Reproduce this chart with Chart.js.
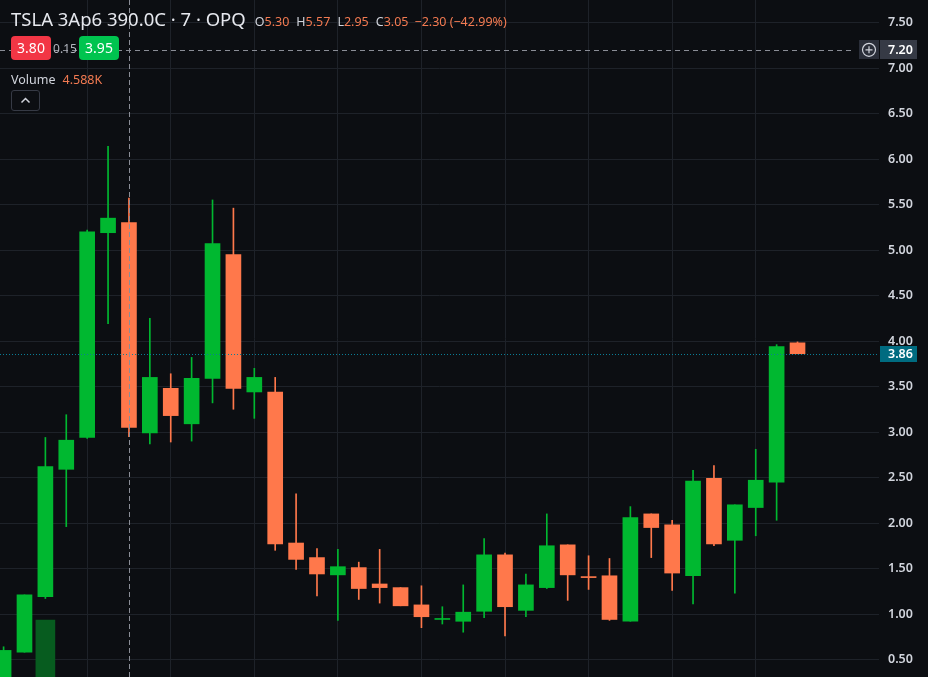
<!DOCTYPE html>
<html>
<head>
<meta charset="utf-8">
<script src="https://cdn.jsdelivr.net/npm/chart.js@4.4.1/dist/chart.umd.min.js"></script>
<style>
  html, body { margin: 0; padding: 0; background: #0c0e12; }
  #wrap { position: relative; width: 928px; height: 677px; overflow: hidden; font-family: "Noto Sans", "Open Sans", sans-serif; }
  #chart { position: absolute; left: 0; top: 0; }
  .legend { position: absolute; left: 11px; color: #d1d4dc; white-space: nowrap; }
  #title { top: 6px; display: flex; align-items: baseline; }
  #title .sym { font-size: 18.5px; color: #e6e8ee; margin-right: 8px; }
  #title .k { font-size: 12.5px; color: #d1d4dc; margin-left: 1px; }
  #title .v { font-size: 12.5px; color: #f47b52; margin-right: 6px; }
  #quote { top: 36px; display: flex; align-items: center; }
  .box { width: 40px; height: 24px; border-radius: 4px; color: #fff; font-size: 14px; line-height: 24px; text-align: center; }
  #bid { background: #f23645; }
  #ask { background: #00c44f; }
  #spread { font-size: 12px; color: #b2b5be; width: 28px; text-align: center; }
  #vol { top: 71px; font-size: 12.5px; }
  #vol span { color: #f47b52; margin-left: 7px; }
  #collapse { position: absolute; left: 11px; top: 90px; width: 27px; height: 19px; border: 1px solid #363a45; border-radius: 3px; }
</style>
</head>
<body>
<div id="wrap">
  <canvas id="chart" width="928" height="677"></canvas>
  <div id="title" class="legend">
    <span class="sym">TSLA 3Ap6 390.0C · 7 · OPQ</span>
    <span class="k">O</span><span class="v">5.30</span>
    <span class="k">H</span><span class="v">5.57</span>
    <span class="k">L</span><span class="v">2.95</span>
    <span class="k">C</span><span class="v">3.05</span>
    <span class="v">−2.30 (−42.99%)</span>
  </div>
  <div id="quote" class="legend">
    <div id="bid" class="box">3.80</div>
    <div id="spread">0.15</div>
    <div id="ask" class="box">3.95</div>
  </div>
  <div id="vol" class="legend">Volume<span>4.588K</span></div>
  <div id="collapse">
    <svg width="27" height="19" viewBox="0 0 27 19"><polyline points="9.5,11.5 13.5,7.5 17.5,11.5" fill="none" stroke="#d1d4dc" stroke-width="1.5"/></svg>
  </div>
</div>
<script>
// daily candles (first open/low sit below the visible edge)
const opens  = [0.28, 0.58, 1.19, 2.59, 2.94, 5.19, 5.30, 2.99, 3.48, 3.09, 3.59, 4.95, 3.44, 3.44, 1.78, 1.62, 1.43, 1.51, 1.33, 1.29,
                1.10, 0.94, 0.92, 1.03, 1.65, 1.04, 1.29, 1.76, 1.41, 1.42, 0.92, 2.10, 1.98, 1.42, 2.49, 1.81, 2.17, 2.45, 3.98]
const highs  = [0.64, 1.21, 2.94, 3.19, 5.22, 6.14, 5.57, 4.25, 3.64, 3.82, 5.55, 5.46, 3.70, 3.60, 2.32, 1.72, 1.71, 1.57, 1.71, 1.29,
                1.31, 1.08, 1.32, 1.83, 1.67, 1.44, 2.10, 1.76, 1.64, 1.61, 2.18, 2.10, 2.03, 2.58, 2.63, 2.20, 2.81, 3.96, 3.99]
const lows   = [0.25, 0.58, 1.17, 1.96, 2.93, 4.19, 2.95, 2.87, 2.89, 2.90, 3.32, 3.25, 3.15, 1.70, 1.49, 1.20, 0.93, 1.16, 1.12, 1.09,
                0.85, 0.89, 0.80, 0.96, 0.76, 0.97, 1.28, 1.15, 1.27, 0.93, 0.92, 1.62, 1.26, 1.11, 1.75, 1.23, 1.86, 2.03, 3.86]
const closes = [0.60, 1.21, 2.62, 2.91, 5.20, 5.35, 3.05, 3.60, 3.18, 3.59, 5.07, 3.48, 3.60, 1.77, 1.60, 1.44, 1.52, 1.28, 1.29, 1.09,
                0.97, 0.95, 1.02, 1.65, 1.08, 1.32, 1.75, 1.43, 1.40, 0.94, 2.06, 1.95, 1.45, 2.46, 1.77, 2.20, 2.47, 3.94, 3.86]
// volume pane sits mostly below the visible bottom; only the tallest bar shows
const volumes = [3100, 2400, 9800, 1900, 4400, 2700, 4588, 2100, 1300, 1600, 3900, 3300, 1200, 4100, 1800, 1100, 1500, 900, 1000, 700,
                 1200, 600, 900, 2300, 1700, 800, 1400, 900, 500, 1300, 2600, 700, 1100, 2200, 1500, 1200, 1300, 3800, 400]

const priceTicks = [0.5, 1, 1.5, 2, 2.5, 3, 3.5, 4, 4.5, 5, 5.5, 6, 6.5, 7, 7.5]
const crossIndex = 6
const crossPrice = 7.20
const lastPrice = 3.86

const UP = "#00b830"
const DOWN = "#ff784b"
const GRID = "#1e2229"
const BG = "#0c0e12"

const idx = opens.map((_, i) => i)
const colors = idx.map((i) => (closes[i] >= opens[i] ? UP : DOWN))

const background = {
  id: "background",
  beforeDraw(chart) {
    const { ctx } = chart
    ctx.save()
    ctx.fillStyle = BG
    ctx.fillRect(0, 0, chart.width, chart.height)
    ctx.restore()
  },
}

const overlays = {
  id: "overlays",
  afterDatasetsDraw(chart) {
    const { ctx, chartArea } = chart
    const x = chart.scales.x
    const y = chart.scales.y
    ctx.save()
    ctx.lineWidth = 1

    // last price line
    const ly = Math.round(y.getPixelForValue(lastPrice)) + 0.5
    ctx.strokeStyle = "#0a7e96"
    ctx.setLineDash([1, 2])
    ctx.beginPath()
    ctx.moveTo(chartArea.left, ly)
    ctx.lineTo(chartArea.right, ly)
    ctx.stroke()

    // crosshair
    ctx.strokeStyle = "#8a8d96"
    ctx.setLineDash([5, 3])
    const cx = Math.round(x.getPixelForValue(crossIndex)) + 0.5
    ctx.beginPath()
    ctx.moveTo(cx, chartArea.top)
    ctx.lineTo(cx, chartArea.bottom)
    ctx.stroke()
    const cy = Math.round(y.getPixelForValue(crossPrice)) + 0.5
    ctx.setLineDash([5, 4])
    ctx.beginPath()
    ctx.moveTo(chartArea.left, cy)
    ctx.lineTo(chartArea.right - 26, cy)
    ctx.stroke()
    ctx.restore()
  },
  afterDraw(chart) {
    const { ctx, chartArea } = chart
    const y = chart.scales.y
    ctx.save()
    ctx.textBaseline = "middle"
    ctx.textAlign = "left"
    ctx.font = "600 12.5px 'Noto Sans', sans-serif"

    // last price badge
    const ly = y.getPixelForValue(lastPrice)
    ctx.fillStyle = "#006b80"
    ctx.fillRect(chartArea.right + 1, Math.round(ly) - 8, 37, 16)
    ctx.fillStyle = "#ffffff"
    ctx.fillText(lastPrice.toFixed(2), chartArea.right + 9, ly + 0.5)

    // crosshair price badge + add button
    const cy = y.getPixelForValue(crossPrice)
    ctx.fillStyle = "#363a45"
    ctx.fillRect(chartArea.right + 1, Math.round(cy) - 10, 37, 19)
    ctx.fillStyle = "#ffffff"
    ctx.fillText(crossPrice.toFixed(2), chartArea.right + 9, cy + 0.5)

    const bx = chartArea.right - 20
    ctx.fillStyle = "#2a2e39"
    ctx.fillRect(bx, Math.round(cy) - 10, 20, 19)
    ctx.strokeStyle = "#d1d4dc"
    ctx.lineWidth = 1.2
    ctx.beginPath()
    ctx.arc(bx + 10, cy, 6.5, 0, Math.PI * 2)
    ctx.moveTo(bx + 6.5, cy)
    ctx.lineTo(bx + 13.5, cy)
    ctx.moveTo(bx + 10, cy - 3.5)
    ctx.lineTo(bx + 10, cy + 3.5)
    ctx.stroke()
    ctx.restore()
  },
}

new Chart(document.getElementById("chart"), {
  type: "bar",
  data: {
    datasets: [
      {
        label: "bodies",
        data: idx.map((i) => ({ x: i, y: [opens[i], closes[i]] })),
        backgroundColor: colors,
        barThickness: 15,
        minBarLength: 1,
        grouped: false,
        order: 1,
        yAxisID: "y",
      },
      {
        label: "wicks",
        data: idx.map((i) => ({ x: i, y: [lows[i], highs[i]] })),
        backgroundColor: colors,
        barThickness: 1,
        grouped: false,
        order: 2,
        yAxisID: "y",
      },
      {
        label: "volume",
        data: idx.map((i) => ({ x: i, y: volumes[i] })),
        backgroundColor: idx.map((i) => (closes[i] >= opens[i] ? "#075c1f" : "#7a3a26")),
        barThickness: 19,
        grouped: false,
        order: 3,
        yAxisID: "vol",
      },
    ],
  },
  options: {
    responsive: false,
    animation: false,
    events: [],
    layout: { padding: 0 },
    plugins: { legend: { display: false }, tooltip: { enabled: false } },
    scales: {
      x: {
        type: "linear",
        offset: false,
        min: -0.172,
        max: 41.9,
        ticks: { display: false, stepSize: 4 },
        afterBuildTicks: (axis) => {
          axis.ticks = axis.ticks.filter((t) => Math.abs(t.value % 4) < 1e-6)
        },
        afterFit: (axis) => {
          axis.height = 0
          axis.paddingLeft = 0
          axis.paddingRight = 0
        },
        grid: { color: GRID, drawTicks: false, offset: false },
        border: { display: false },
      },
      y: {
        position: "right",
        min: 0.3077,
        max: 7.7473,
        afterBuildTicks: (axis) => {
          axis.ticks = priceTicks.map((v) => ({ value: v }))
        },
        afterFit: (axis) => {
          axis.width = 49
          axis.paddingTop = 0
          axis.paddingBottom = 0
        },
        ticks: {
          color: "#d1d4dc",
          padding: 9,
          font: { family: "'Noto Sans', sans-serif", size: 12.5, weight: "600" },
          callback: (v) => Number(v).toFixed(2),
        },
        grid: { color: GRID, drawTicks: false },
        border: { display: false },
      },
      vol: {
        display: false,
        min: 5000,
        max: 62000,
      },
    },
  },
  plugins: [background, overlays],
})
</script>
</body>
</html>
